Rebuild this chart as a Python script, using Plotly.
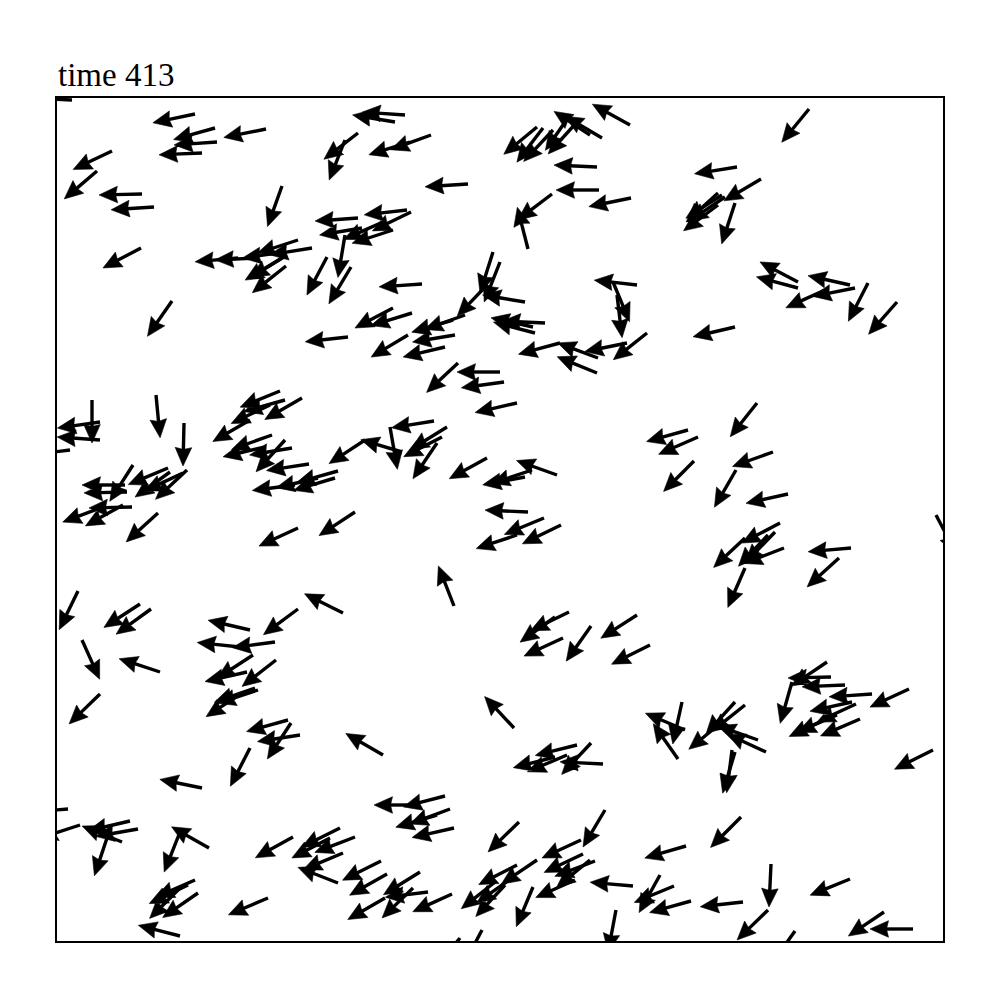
import numpy as np
import plotly.graph_objects as go

# particle positions (tail of each arrow) and velocity components
x = [15,138,158,160,145,209,55,40,85,97,84,115,225,291,301,288,348,338,374,353,411,480,486,496,513,520,545,533,573,540,
     542,574,495,471,350,354,336,326,301,305,288,270,294,241,255,181,201,228,230,225,229,365,436,443,430,468,488,478,476,336,
     355,408,396,398,388,351,401,443,503,541,540,570,590,580,556,560,752,680,704,665,661,668,661,678,741,741,793,798,768,811,
     840,678,43,43,35,13,99,127,223,228,213,245,193,215,208,235,228,252,281,261,278,238,76,111,113,130,126,68,70,75,
     46,66,101,241,298,308,21,83,94,286,193,241,183,218,25,447,460,377,333,390,385,345,380,430,500,475,468,471,487,504,
     460,397,512,498,506,534,580,593,631,641,637,700,716,679,731,723,718,727,688,711,688,794,782,879,103,43,196,190,219,201,
     185,198,231,243,234,193,326,145,11,23,73,81,65,51,152,123,236,283,273,298,286,281,138,131,141,123,211,123,457,520,
     498,510,534,546,388,360,393,380,397,462,548,524,526,538,533,480,455,460,438,448,476,518,576,324,330,363,371,356,395,328,
     559,425,403,621,628,625,688,665,678,701,709,678,675,770,774,788,735,815,795,799,771,803,780,852,876,684,629,617,603,634,
     686,714,711,793,827,856,738]
y = [841,827,813,799,788,812,790,770,747,734,693,640,755,604,808,801,826,819,806,799,757,814,813,811,826,819,803,806,816,774,
     751,743,747,692,731,729,711,719,723,713,706,684,674,701,693,683,683,689,686,683,675,657,689,679,656,639,618,608,614,633,
     628,626,621,606,594,606,578,569,598,583,568,598,608,656,659,646,832,774,762,746,736,744,748,738,659,653,656,653,651,658,
     639,614,519,501,541,491,546,518,550,541,536,543,521,506,494,493,501,477,470,463,463,456,476,473,469,471,468,456,449,434,
     434,436,428,413,429,501,350,337,332,328,311,332,294,299,301,559,538,520,514,514,504,489,498,483,466,471,464,429,423,416,
     406,335,329,324,303,315,326,296,511,504,480,538,489,471,447,418,409,393,403,406,373,393,383,426,269,247,286,269,281,251,
     248,253,221,206,218,193,186,153,132,116,120,112,99,106,93,109,104,113,103,104,88,58,61,56,48,53,43,5,213,196,
     184,186,198,177,145,136,132,126,113,119,131,101,87,80,81,81,63,76,59,56,54,61,55,80,67,69,49,53,47,43,
     31,11,3,182,211,239,236,219,239,201,189,189,191,279,264,256,259,247,239,237,223,222,226,252,191,124,95,55,66,40,
     39,77,31,62,29,12,10]
u = [-42,-43,-43,-44,-47,-45,-40,-34,-45,-46,-40,-25,-15,-45,-35,-15,-45,-42,-41,-42,-46,-34,-26,-28,-23,-27,-39,-35,-38,-45,
     -45,-44,-37,-10,-44,-45,-40,-36,-42,-42,-7,-19,-21,-40,-44,-45,-46,-42,-37,-45,-34,-45,-13,-15,-22,-42,-45,-42,-41,-38,
     -49,-42,-51,-48,-42,-50,-31,-43,-37,-40,-39,-44,-34,-44,15,5,-27,-44,-39,-42,-36,-37,-33,-13,-36,-41,-45,-45,-33,-20,
     -29,-43,-42,-42,0,-40,4,-1,-42,-43,-42,-52,-38,-42,-43,-42,-30,-52,-50,-43,-40,-47,-18,-36,-32,-30,-43,-38,-47,-44,
     -40,-36,-33,-41,-32,-35,-18,-37,-36,-40,-43,-35,-38,-45,18,-44,-44,-44,7,-42,-35,-40,-25,-40,-42,-50,-43,-45,-41,-41,
     -45,-16,-41,-25,-41,-24,-39,-30,-43,-41,-31,-27,-42,-22,-45,-38,-27,-39,-32,-35,-17,-46,-32,20,-43,-32,-23,-44,-36,-46,
     -44,-40,-43,-45,-23,-20,-38,-44,-38,-40,-47,-46,-35,-11,-39,-15,-38,-40,-42,-47,-36,-41,-50,-48,-36,-20,-40,-43,-29,-40,
     -43,-40,-28,-40,-42,-45,-43,-44,-44,-31,-22,-39,-38,-42,-27,-37,-34,-39,-48,-25,-16,-38,-45,-38,-37,-37,-41,-30,-42,-38,
     -6,-20,-25,-26,-40,-9,-35,-34,-30,-43,-41,-12,-5,-34,-43,-47,-10,-45,-50,-41,-40,-42,-39,-41,-40,-31,-41,-29,-15,-43,
     -45,-2,-31,-42,-37,-45,-25]
v = [2,-9,-12,-3,-2,-9,-19,-29,-1,-3,-21,-36,-42,-5,-27,-38,3,7,-15,-13,-3,-28,-34,-30,-33,-30,23,23,21,2,
     0,-9,-28,39,-5,-22,-13,-16,-3,-7,-42,-36,-35,-13,-7,-4,-2,-6,-23,-27,-27,-3,-41,-38,-23,7,2,11,9,-20,
     -15,-15,-15,-8,-10,-30,-29,0,-10,15,16,-9,-27,5,-36,-42,-33,-7,-23,-27,-27,-25,-30,-40,19,11,10,-9,-15,-39,
     -33,-10,-6,3,-38,-5,-42,-44,-17,-12,-20,-30,-22,-15,-10,-7,-33,-8,-14,-10,-12,-6,-28,-15,-23,-28,-20,0,-1,-1,
     -15,-20,-30,-19,-21,-23,-37,-24,-26,20,10,-26,4,-6,-40,-6,-10,-7,-40,-26,-18,12,-37,-22,15,-17,-8,2,-17,-20,
     -15,41,-20,-18,-19,-34,-25,-15,-12,-18,-31,-34,-15,-38,-10,-20,-28,-15,-30,-37,-39,-4,-29,-38,14,-31,-15,-10,-28,-15,
     -29,-14,-12,-7,-35,-39,22,9,-3,-13,-11,-8,14,-33,22,-38,-21,-20,-22,-18,-15,16,-22,-23,-25,-20,-17,11,31,-10,
     -11,-17,-30,2,-11,0,-16,-13,-10,-30,-37,-18,-18,-16,-22,-25,-24,-20,-38,-27,-38,-17,4,-19,-21,-23,-5,-29,-19,-22,
     -32,-38,-30,37,17,-41,-28,-28,-33,15,19,-40,-40,-23,-1,-2,-35,-3,-11,-19,-19,-18,-17,-19,-20,-31,-12,-12,-27,-12,
     -5,-43,-30,-17,-25,0,-35]

title_text = "time 413"
x_range = [0, 886]
y_range = [0, 843]

ARROW_LEN = 43.0
HEAD_LEN = 18.5
HEAD_AXIS = 16.5
HEAD_HALF = 8.3
SHAFT_W = 3.4

X = np.array(x, float)
Y = np.array(y, float)
U = np.array(u, float)
V = np.array(v, float)
n = np.hypot(U, V)
dx, dy = U / n, V / n
px, py = -dy, dx

tipx = X + ARROW_LEN * dx
tipy = Y + ARROW_LEN * dy
sex = tipx - (HEAD_AXIS - 1) * dx
sey = tipy - (HEAD_AXIS - 1) * dy

shaft_x, shaft_y, head_x, head_y = [], [], [], []
for i in range(len(X)):
    shaft_x += [X[i], sex[i], None]
    shaft_y += [Y[i], sey[i], None]
    bx = tipx[i] - HEAD_LEN * dx[i]
    by = tipy[i] - HEAD_LEN * dy[i]
    ax_ = tipx[i] - HEAD_AXIS * dx[i]
    ay_ = tipy[i] - HEAD_AXIS * dy[i]
    head_x += [tipx[i], bx + HEAD_HALF * px[i], ax_, bx - HEAD_HALF * px[i], tipx[i], None]
    head_y += [tipy[i], by + HEAD_HALF * py[i], ay_, by - HEAD_HALF * py[i], tipy[i], None]

fig = go.Figure()
fig.add_trace(go.Scatter(x=shaft_x, y=shaft_y, mode="lines",
                         line=dict(color="black", width=SHAFT_W),
                         hoverinfo="skip", showlegend=False))
fig.add_trace(go.Scatter(x=head_x, y=head_y, mode="lines", fill="toself",
                         fillcolor="black", line=dict(color="black", width=0.6),
                         hoverinfo="skip", showlegend=False))

axis_common = dict(showgrid=False, zeroline=False, showticklabels=False, ticks="",
                   showline=True, mirror=True, linecolor="black", linewidth=1.5)
fig.update_layout(
    width=1000, height=1000,
    margin=dict(l=57, r=57, t=98, b=59),
    paper_bgcolor="white", plot_bgcolor="white",
    xaxis=dict(range=x_range, **axis_common),
    yaxis=dict(range=y_range, **axis_common),
    annotations=[dict(text=title_text, xref="paper", yref="paper", x=0, y=1,
                      xanchor="left", yanchor="bottom", yshift=3, xshift=-1, showarrow=False,
                      font=dict(family="Liberation Serif", size=33, color="black"))],
)
fig.write_html("out.html")
